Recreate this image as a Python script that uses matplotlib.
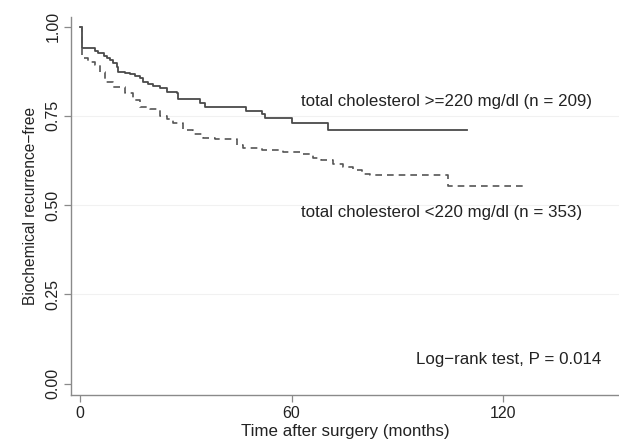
import matplotlib
matplotlib.use("Agg")
import matplotlib.pyplot as plt

# Kaplan-Meier steps (months, survival)
high_t = [0, 0.4, 4.2, 5.1, 6.6, 7.5, 8.5, 9.4, 10.4, 10.8, 12.7, 14.1, 15.5,
          17.0, 17.9, 19.3, 20.7, 22.6, 24.5, 27.4, 27.8, 34.0, 35.4, 47.2,
          51.5, 52.4, 60.0, 70.4, 109.8]
high_s = [1.0, 0.939, 0.933, 0.925, 0.918, 0.911, 0.906, 0.899, 0.888, 0.874,
          0.871, 0.867, 0.862, 0.855, 0.846, 0.839, 0.833, 0.827, 0.817, 0.813,
          0.796, 0.787, 0.775, 0.763, 0.754, 0.743, 0.730, 0.710, 0.710]

low_t = [0, 0.4, 2.3, 4.2, 5.6, 7.0, 9.4, 12.7, 15.1, 16.9, 19.8, 22.6, 24.5,
         26.4, 29.2, 32.0, 34.9, 38.2, 44.4, 46.3, 51.6, 57.6, 62.3, 66.1,
         68.5, 71.8, 74.6, 77.5, 79.9, 82.2, 104.4, 125.7]
low_s = [1.0, 0.911, 0.902, 0.892, 0.874, 0.846, 0.831, 0.813, 0.794, 0.774,
         0.768, 0.750, 0.741, 0.729, 0.710, 0.698, 0.689, 0.684, 0.668, 0.661,
         0.655, 0.649, 0.642, 0.633, 0.626, 0.616, 0.607, 0.597, 0.588, 0.583,
         0.553, 0.553]

x_ticks = [0, 60, 120]
y_ticks = [0.0, 0.25, 0.5, 0.75, 1.0]
y_labels = ["0.00", "0.25", "0.50", "0.75", "1.00"]

plt.rcParams["font.family"] = ["Liberation Sans", "DejaVu Sans"]

fig = plt.figure(figsize=(6.19, 4.47), dpi=100, facecolor="white")
ax = fig.add_axes([0.1155, 0.117, 0.8845, 0.845])

AX = "#8a8a8a"
INK = "#222222"
for y in y_ticks[1:4]:
    ax.axhline(y, color="#f1f1f1", linewidth=0.8, zorder=0)

ax.step(high_t, high_s, where="post", color="#4a4a4a", linewidth=1.3, zorder=3)
ax.step(low_t, low_s, where="post", color="#555555", linewidth=1.2,
        linestyle=(0, (4, 3)), zorder=3)

ax.text(62.8, 0.789, "total cholesterol >=220 mg/dl (n = 209)", fontsize=12.2,
        color=INK, va="center", ha="left")
ax.text(62.8, 0.480, "total cholesterol <220 mg/dl (n = 353)", fontsize=12.2,
        color=INK, va="center", ha="left")
ax.text(148, 0.069, "Log\u2212rank test, P = 0.014", fontsize=12.2,
        color=INK, va="center", ha="right")

ax.set_xlim(-2.5, 153)
ax.set_ylim(-0.031, 1.027)
ax.set_xticks(x_ticks)
ax.set_yticks(y_ticks)
ax.set_yticklabels(y_labels, rotation=90, va="center")
ax.tick_params(colors=AX, labelcolor=INK, labelsize=11.5,
               length=5, width=0.9, pad=3)
ax.spines[["top", "right"]].set_visible(False)
for s in ("left", "bottom"):
    ax.spines[s].set_color(AX)
    ax.spines[s].set_linewidth(1.0)

ax.set_xlabel("Time after surgery (months)", fontsize=12.2, color=INK,
              labelpad=2)
ax.set_ylabel("Biochemical recurrence\u2212free", fontsize=11.2,
              color=INK, labelpad=5)

fig.savefig("out.png", dpi=100, facecolor="white")
